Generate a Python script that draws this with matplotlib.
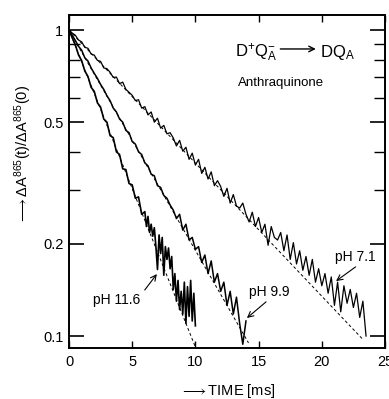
import numpy as np
import matplotlib
matplotlib.use("Agg")
import matplotlib.pyplot as plt
from matplotlib.ticker import FixedLocator, NullFormatter

plt.rcParams['font.family'] = ['Liberation Sans', 'DejaVu Sans']
plt.rcParams['mathtext.fontset'] = 'custom'
plt.rcParams['mathtext.rm'] = 'Liberation Sans'
plt.rcParams['mathtext.it'] = 'Liberation Sans'
plt.rcParams['mathtext.sf'] = 'Liberation Sans'

# time grids (ms)
t_71 = np.arange(0, 23.51, 0.25)
t_99 = np.arange(0, 14.01, 0.25)
t_116 = np.concatenate([np.arange(0, 5.76, 0.25), np.arange(6.0, 10.01, 0.125)])

# normalised absorbance traces
y_71 = [1.00, 0.978, 0.962, 0.928, 0.915, 0.878, 0.872, 0.835, 0.828, 0.796,
        0.790, 0.752, 0.748, 0.728, 0.700, 0.702, 0.668, 0.676, 0.640, 0.626,
        0.612, 0.588, 0.592, 0.556, 0.562, 0.528, 0.540, 0.500, 0.515, 0.478,
        0.488, 0.458, 0.462, 0.444, 0.418, 0.436, 0.402, 0.414, 0.378, 0.396,
        0.362, 0.378, 0.340, 0.356, 0.326, 0.344, 0.310, 0.322, 0.308, 0.286,
        0.304, 0.272, 0.290, 0.266, 0.262, 0.272, 0.250, 0.236, 0.254, 0.228,
        0.244, 0.218, 0.232, 0.198, 0.228, 0.210, 0.206, 0.218, 0.190, 0.214,
        0.178, 0.202, 0.172, 0.190, 0.164, 0.182, 0.158, 0.178, 0.150, 0.166,
        0.146, 0.160, 0.138, 0.156, 0.126, 0.150, 0.120, 0.146, 0.128, 0.142,
        0.124, 0.138, 0.115, 0.130, 0.100]
y_99 = [1.00, 0.962, 0.925, 0.885, 0.860, 0.812, 0.792, 0.752, 0.722, 0.695,
        0.664, 0.640, 0.610, 0.588, 0.556, 0.540, 0.512, 0.500, 0.470, 0.462,
        0.432, 0.424, 0.400, 0.392, 0.368, 0.360, 0.338, 0.334, 0.310, 0.306,
        0.288, 0.282, 0.268, 0.258, 0.242, 0.250, 0.222, 0.232, 0.206, 0.210,
        0.192, 0.196, 0.174, 0.184, 0.160, 0.176, 0.150, 0.160, 0.140, 0.150,
        0.126, 0.140, 0.118, 0.134, 0.110, 0.094, 0.112]
y_116 = [1.00, 0.945, 0.895, 0.830, 0.795, 0.735, 0.705, 0.650, 0.630, 0.578,
         0.560, 0.512, 0.500, 0.452, 0.445, 0.400, 0.392, 0.352, 0.350, 0.315,
         0.312, 0.282, 0.285, 0.250,
         0.255, 0.228, 0.246, 0.218, 0.232, 0.212, 0.226, 0.196, 0.165, 0.214,
         0.186, 0.210, 0.158, 0.196, 0.178, 0.194, 0.166, 0.182, 0.142, 0.160,
         0.130, 0.152, 0.122, 0.140, 0.118, 0.150, 0.110, 0.145, 0.116, 0.152,
         0.112, 0.138, 0.108]

# single-exponential fits (end points of the dashed lines)
fit_71_t, fit_71_y = [0, 23.3], [1.0, 0.097]
fit_99_t, fit_99_y = [0, 14.2], [1.0, 0.095]
fit_116_t, fit_116_y = [0, 10.0], [1.0, 0.092]

fig = plt.figure(figsize=(3.89, 3.99), dpi=100)
ax = fig.add_axes([69 / 389, 1 - 348 / 399, 316 / 389, 333 / 399])

ax.plot(t_71, y_71, color='black', lw=0.9)
ax.plot(t_99, y_99, color='black', lw=1.1)
ax.plot(t_116, y_116, color='black', lw=1.2)
for t, y in [(fit_71_t, fit_71_y), (fit_99_t, fit_99_y), (fit_116_t, fit_116_y)]:
    ax.plot(t, y, color='black', lw=0.7, ls=(0, (3, 2.5)))

ax.set_yscale('log')
ax.set_xlim(0, 25)
ax.set_ylim(0.0914, 1.12)
ax.yaxis.set_major_locator(FixedLocator([0.1, 0.2, 0.5, 1.0]))
ax.yaxis.set_minor_locator(FixedLocator([0.3, 0.4, 0.6, 0.7, 0.8, 0.9]))
ax.yaxis.set_minor_formatter(NullFormatter())
ax.set_yticklabels(['0.1', '0.2', '0.5', '1'])
ax.set_xticks([0, 5, 10, 15, 20, 25])
ax.tick_params(axis='x', direction='in', length=5, width=1, top=True, pad=5, labelsize=10.5)
ax.tick_params(axis='y', which='major', direction='in', length=11, width=1.2, right=True, pad=4, labelsize=10.5)
ax.tick_params(axis='y', which='minor', direction='in', length=8, width=1, right=True)
for s in ax.spines.values():
    s.set_linewidth(1.4)

ax.text(0.525, 0.874, r'D$^{+}$Q$_{A}^{-}$', transform=ax.transAxes, fontsize=12, va='baseline')
ax.annotate('', xy=(0.790, 0.898), xytext=(0.660, 0.898), xycoords='axes fraction',
            arrowprops=dict(arrowstyle='->', lw=1.0, color='black'))
ax.text(0.794, 0.874, r'DQ$_{A}$', transform=ax.transAxes, fontsize=12, va='baseline')
ax.text(0.671, 0.796, 'Anthraquinone', transform=ax.transAxes, fontsize=9.5, ha='center', va='center')

ax.annotate('pH 11.6', xy=(0.278, 0.222), xytext=(0.076, 0.144), xycoords='axes fraction',
            fontsize=10, va='center', arrowprops=dict(arrowstyle='->', lw=0.8, shrinkA=2, shrinkB=0,
                                                        relpos=(1.0, 0.8)))
ax.annotate('pH 9.9', xy=(0.563, 0.090), xytext=(0.570, 0.168), xycoords='axes fraction',
            fontsize=10, va='center', arrowprops=dict(arrowstyle='->', lw=0.8, shrinkA=0, shrinkB=0,
                                                       relpos=(0.5, 0.0)))
ax.annotate('pH 7.1', xy=(0.845, 0.201), xytext=(0.842, 0.273), xycoords='axes fraction',
            fontsize=10, va='center', arrowprops=dict(arrowstyle='->', lw=0.8, shrinkA=0, shrinkB=0,
                                                       relpos=(0.6, 0.0)))

fig.text(228 / 389, 1 - 391 / 399, r'$\longrightarrow$TIME [ms]', fontsize=10.5, ha='center', va='center')
fig.text(23 / 389, 1 - 154 / 399, r'$\longrightarrow\Delta\mathrm{A}^{865}\mathrm{(t)/}\Delta\mathrm{A}^{865}\mathrm{(0)}$',
         fontsize=10.5, rotation=90, ha='center', va='center')

fig.savefig('out.png', dpi=100)
